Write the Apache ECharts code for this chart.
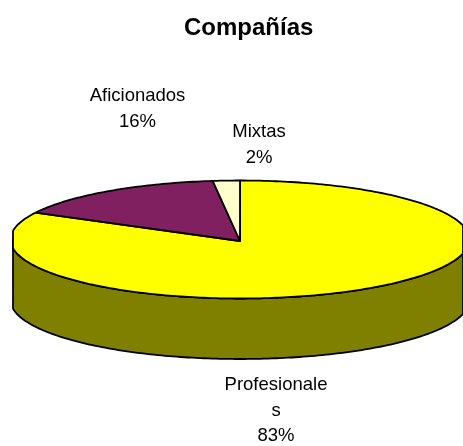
<!DOCTYPE html>
<html>
<head>
<meta charset="utf-8">
<style>html,body{margin:0;padding:0;background:#fff}#c{width:463px;height:446px}</style>
<script src="https://cdn.jsdelivr.net/npm/echarts@6/dist/echarts.min.js"></script>
</head>
<body>
<div id="c"></div>
<script>
var titleText = 'Compañías';
var categories = ['Profesionales', 'Aficionados', 'Mixtas'];
var shares = [82.5, 15.6, 1.9];
var percentLabels = ['83%', '16%', '2%'];
var labelLines = ['Profesionale\ns', 'Aficionados', 'Mixtas'];
var topColors = ['#FFFF00', '#802060', '#FFFFCC'];
var sideColors = ['#808000', '#401030', '#808066'];

var CX = 240, CY = 239.5, RX = 229.5, RY = 59, DEPTH = 60.5, XMIN = 13, XMAX = 463;
var LABEL_POS = [[276, 410.5], [137.5, 109], [259, 145]];
var total = shares.reduce(function (a, b) { return a + b; }, 0);

function pt(deg, dy) {
  var r = deg * Math.PI / 180;
  var x = CX + RX * Math.sin(r);
  return [Math.min(XMAX, Math.max(XMIN, x)), CY + (dy || 0) - RY * Math.cos(r)];
}
function arc(a0, a1, dy) {
  var out = [], n = Math.max(2, Math.ceil(Math.abs(a1 - a0)));
  for (var i = 0; i <= n; i++) out.push(pt(a0 + (a1 - a0) * i / n, dy));
  return out;
}
var option = {
  animation: false,
  backgroundColor: '#fff',
  title: {
    text: titleText, left: 179, top: 11,
    textStyle: { fontFamily: 'Liberation Sans', fontWeight: 'bold', fontSize: 24, color: '#000' }
  },
  series: [{
    type: 'custom',
    coordinateSystem: 'none',
    clip: false,
    data: categories.map(function (c, i) { return { name: c, value: [shares[i], i] }; }),
    renderItem: function (params, api) {
      var i = api.value(1), before = 0;
      for (var k = 0; k < i; k++) before += shares[k];
      var a0 = before / total * 360, a1 = (before + api.value(0)) / total * 360;
      var children = [];
      var s0 = Math.max(a0, 90), s1 = Math.min(a1, 270);
      if (s1 > s0) {
        children.push({
          type: 'polygon',
          shape: { points: arc(s0, s1, 0).concat(arc(s1, s0, DEPTH)) },
          style: { fill: sideColors[i], stroke: '#000', lineWidth: 1.8, lineJoin: 'round' }
        });
      }
      children.push({
        type: 'polygon',
        shape: { points: [[CX, CY + 1.5]].concat(arc(a0, a1, 0)) },
        style: { fill: topColors[i], stroke: '#000', lineWidth: 1.8, lineJoin: 'round' }
      });
      children.push({
        type: 'text',
        z2: 10,
        style: {
          text: labelLines[i] + '\n' + percentLabels[i],
          x: LABEL_POS[i][0], y: LABEL_POS[i][1],
          align: 'center', verticalAlign: 'middle',
          font: '18.5px "Liberation Sans"', lineHeight: 25.5, fill: '#000'
        }
      });
      return { type: 'group', children: children };
    }
  }]
};
echarts.init(document.getElementById('c'), null, { renderer: 'canvas' }).setOption(option);
</script>
</body>
</html>
